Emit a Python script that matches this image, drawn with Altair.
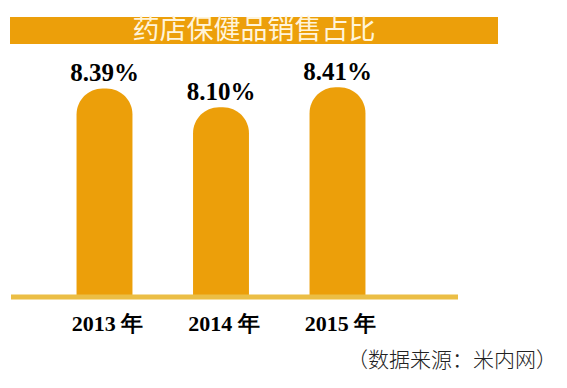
import altair as alt
import pandas as pd

years = ["2013 年", "2014 年", "2015 年"]
shares = [8.39, 8.10, 8.41]
value_labels = ["8.39%", "8.10%", "8.41%"]
title_text = "药店保健品销售占比"
source_text = "（数据来源：米内网）"

BASE = 5.182
ORANGE = "#EC9F0A"
SERIF = "Liberation Serif, Times New Roman, serif"

df = pd.DataFrame({"year": years, "share": shares, "label": value_labels})

xs = alt.Scale(domain=years, range=[38.25, 387.75], paddingInner=0.52, paddingOuter=0.26)
ys = alt.Scale(domain=[BASE, 9.628], range=[289, 0])

base = alt.Chart(df)

bars = base.mark_bar(
    color=ORANGE, cornerRadiusTopLeft=26, cornerRadiusTopRight=26
).encode(
    x=alt.X("year:N", scale=xs, axis=None, sort=years),
    y=alt.Y("share:Q", scale=ys, axis=None),
    y2=alt.datum(BASE),
)

vals = base.mark_text(
    font=SERIF, fontWeight="bold", fontSize=25, color="#000000",
    baseline="alphabetic", dy=-7,
).encode(
    x=alt.X("year:N", scale=xs, axis=None, sort=years),
    y=alt.Y("share:Q", scale=ys, axis=None),
    text="label:N",
)

yearlab = base.mark_text(
    font=SERIF, fontWeight="bold", fontSize=22, color="#000000",
    baseline="alphabetic", dx=3,
).encode(
    x=alt.X("year:N", scale=xs, axis=None, sort=years),
    y=alt.value(323),
    text="year:N",
)

baseline = alt.Chart(pd.DataFrame({"b": [BASE]})).mark_rule(
    color="#EBBE45", strokeWidth=5
).encode(
    x=alt.value(3), x2=alt.value(450),
    y=alt.Y("b:Q", scale=ys, axis=None),
)

one = pd.DataFrame({"t": [title_text]})
title_bar = alt.Chart(one).mark_rect(color=ORANGE).encode(
    x=alt.value(2), x2=alt.value(490), y=alt.value(9), y2=alt.value(36)
)
title = alt.Chart(one).mark_text(
    font="Noto Sans CJK SC", fontSize=27, color="#FFF4DA",
    align="center", baseline="middle",
).encode(x=alt.value(246), y=alt.value(23), text="t:N")

src = alt.Chart(pd.DataFrame({"s": [source_text]})).mark_text(
    font="Noto Sans CJK SC", fontSize=21, fontWeight=300, color="#222222",
    align="right", baseline="middle",
).encode(x=alt.value(549), y=alt.value(353), text="s:N")

chart = alt.layer(title_bar, title, bars, baseline, vals, yearlab, src).properties(
    width=551, height=372, padding=0, autosize=alt.AutoSizeParams(type="none"),
    background="#FFFFFF",
).configure_view(stroke=None)

chart.save("out.html", embed_options={"renderer": "svg", "actions": False})
